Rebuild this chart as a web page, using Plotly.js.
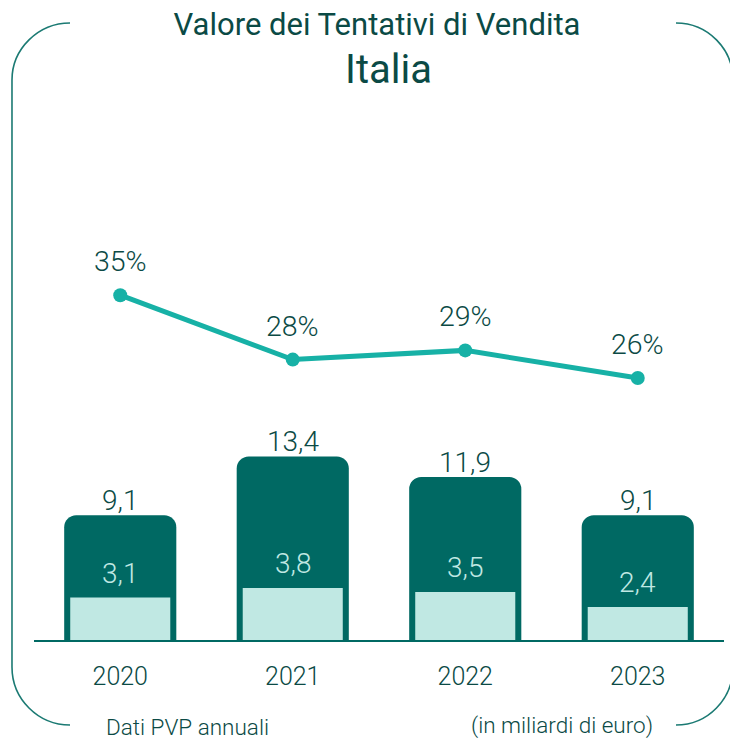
<!DOCTYPE html>
<html>
<head>
<meta charset="utf-8">
<script src="https://cdn.plot.ly/plotly-3.0.1.min.js"></script>
<style>html,body{margin:0;padding:0;background:#fff}#chart{width:730px;height:741px}</style>
</head>
<body>
<div id="chart"></div>
<script>
const years = ['2020', '2021', '2022', '2023'];
const totalValues = [9.1, 13.4, 11.9, 9.1];
const soldValues = [3.1, 3.8, 3.5, 2.4];
const shareValues = [35, 28, 29, 26];
const totalLabels = ['9,1', '13,4', '11,9', '9,1'];
const soldLabels = ['3,1', '3,8', '3,5', '2,4'];
const shareLabels = ['35%', '28%', '29%', '26%'];

const W = 730, H = 741, ML = 34, MR = 6, MT = 100, MB = 101;
const PW = W - ML - MR, PH = H - MT - MB;
const FONT = 'Roboto, "Noto Sans", sans-serif';
const DARK_TEXT = '#0b4a45';
const DARK_BAR = '#006963';
const LIGHT_BAR = '#c0e8e3';
const LINE = '#17b1a6';
const FRAME = '#1b7a73';

function px(x) { return ((x - ML) / PW).toFixed(4); }
function py(y) { return ((H - MB - y) / PH).toFixed(4); }
function P(x, y) { return px(x) + ',' + py(y); }

const leftFrame = 'M' + P(70, 23) + ' C' + P(38, 23) + ' ' + P(12, 49) + ' ' + P(12, 80) +
  ' L' + P(12, 667) + ' C' + P(12, 699) + ' ' + P(38, 725) + ' ' + P(70, 725);
const rightFrame = 'M' + P(676, 23) + ' C' + P(708, 23) + ' ' + P(733, 49) + ' ' + P(733, 80) +
  ' L' + P(733, 667) + ' C' + P(733, 699) + ' ' + P(708, 725) + ' ' + P(676, 725);

const traces = [
  {
    type: 'bar', x: years, y: totalValues, width: 0.65,
    marker: { color: DARK_BAR, cornerradius: 12 },
    hoverinfo: 'skip', showlegend: false
  },
  {
    type: 'bar', x: years, y: soldValues, width: 0.58,
    marker: { color: LIGHT_BAR, cornerradius: 6 },
    hoverinfo: 'skip', showlegend: false
  },
  {
    type: 'scatter', mode: 'lines+markers', x: years, y: shareValues, yaxis: 'y2',
    line: { color: LINE, width: 5 },
    marker: { color: LINE, size: 14 },
    hoverinfo: 'skip', showlegend: false
  }
];

const annotations = [];
years.forEach((yr, i) => {
  annotations.push({ x: i, y: totalValues[i], xref: 'x', yref: 'y', text: totalLabels[i],
    showarrow: false, yanchor: 'bottom', yshift: -4, font: { family: FONT, size: 28, weight: 300, color: DARK_TEXT } });
  annotations.push({ x: i, y: soldValues[i], xref: 'x', yref: 'y', text: soldLabels[i],
    showarrow: false, yanchor: 'bottom', yshift: 6, font: { family: FONT, size: 28, weight: 300, color: LIGHT_BAR } });
  annotations.push({ x: i, y: shareValues[i], xref: 'x', yref: 'y2', text: shareLabels[i],
    showarrow: false, yanchor: 'bottom', yshift: 15, font: { family: FONT, size: 28.5, weight: 300, color: DARK_TEXT } });
});
annotations.push({ x: 0.5 + (374 - 365) / PW, y: (H - MB - 70) / PH, xref: 'paper', yref: 'paper',
  text: 'Italia', showarrow: false, xanchor: 'center', yanchor: 'middle',
  font: { family: FONT, size: 40, color: DARK_TEXT } });
annotations.push({ x: (104 - ML) / PW, y: (H - MB - 727) / PH, xref: 'paper', yref: 'paper',
  text: 'Dati PVP annuali', showarrow: false, xanchor: 'left', yanchor: 'middle',
  font: { family: FONT, size: 22.5, weight: 300, color: DARK_TEXT } });
annotations.push({ x: (655 - ML) / PW, y: (H - MB - 725) / PH, xref: 'paper', yref: 'paper',
  text: '(in miliardi di euro)', showarrow: false, xanchor: 'right', yanchor: 'middle',
  font: { family: FONT, size: 22.5, weight: 300, color: DARK_TEXT } });

const layout = {
  width: W, height: H,
  margin: { l: ML, r: MR, t: MT, b: MB },
  paper_bgcolor: '#ffffff', plot_bgcolor: '#ffffff',
  barmode: 'overlay',
  title: { text: 'Valore dei Tentativi di Vendita', x: 377 / W, xanchor: 'center',
    y: 1 - 24 / H, yanchor: 'middle', font: { family: FONT, size: 31, color: DARK_TEXT } },
  xaxis: {
    type: 'category', range: [-0.5, 3.5], showgrid: false, zeroline: false,
    showline: true, linecolor: DARK_BAR, linewidth: 2, ticks: '',
    ticklabelstandoff: 13,
    tickfont: { family: FONT, size: 25, weight: 300, color: DARK_TEXT }
  },
  yaxis: { range: [0, PH / 13.7], visible: false, showgrid: false, zeroline: false, fixedrange: true },
  yaxis2: { range: [-2.48, -2.48 + PH / 9.2], overlaying: 'y', visible: false, showgrid: false, zeroline: false },
  shapes: [
    { type: 'path', xref: 'paper', yref: 'paper', path: leftFrame, line: { color: FRAME, width: 1.6 } },
    { type: 'path', xref: 'paper', yref: 'paper', path: rightFrame, line: { color: FRAME, width: 1.6 } }
  ],
  annotations: annotations
};

Plotly.newPlot('chart', traces, layout, { displayModeBar: false, staticPlot: true });
</script>
</body>
</html>
